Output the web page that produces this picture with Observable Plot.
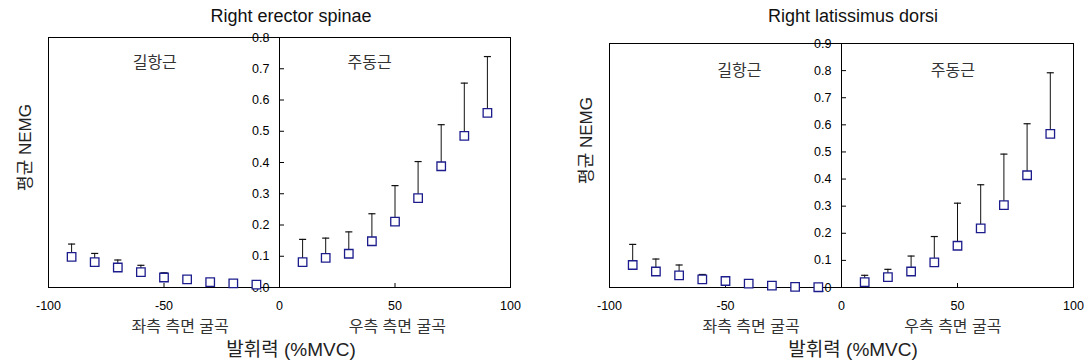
<!DOCTYPE html>
<html>
<head>
<meta charset="utf-8">
<script src="https://cdn.jsdelivr.net/npm/d3@7"></script>
<script src="https://cdn.jsdelivr.net/npm/@observablehq/plot@0.6"></script>
<style>
  html, body { margin: 0; padding: 0; background: #fff; }
  #wrap { display: flex; flex-direction: row; width: 1091px; height: 364px; overflow: hidden; }
</style>
</head>
<body>
<div id="wrap"></div>
<script>
// ---- data ----
const force = [-90, -80, -70, -60, -50, -40, -30, -20, -10, 10, 20, 30, 40, 50, 60, 70, 80, 90];

const erectorMean  = [0.098, 0.081, 0.064, 0.049, 0.032, 0.026, 0.017, 0.013, 0.009,
                      0.081, 0.095, 0.108, 0.148, 0.211, 0.286, 0.388, 0.485, 0.559];
const erectorUpper = [0.139, 0.109, 0.088, 0.071, 0.047, 0.032, 0.021, 0.016, 0.011,
                      0.154, 0.158, 0.178, 0.236, 0.326, 0.403, 0.521, 0.654, 0.739];

const latMean  = [0.083, 0.059, 0.045, 0.030, 0.024, 0.014, 0.007, 0.002, 0.001,
                  0.020, 0.038, 0.059, 0.093, 0.154, 0.218, 0.304, 0.414, 0.567];
const latUpper = [0.159, 0.105, 0.083, 0.048, 0.038, 0.019, 0.009, 0.004, 0.002,
                  0.045, 0.067, 0.116, 0.188, 0.311, 0.379, 0.492, 0.604, 0.792];

const panelTitles = ["Right erector spinae", "Right latissimus dorsi"];
const yMax = [0.8, 0.9];
const yTicksErector = [0, 0.1, 0.2, 0.3, 0.4, 0.5, 0.6, 0.7, 0.8];
const yTicksLat = [0, 0.1, 0.2, 0.3, 0.4, 0.5, 0.6, 0.7, 0.8, 0.9];
const xTicks = [-100, -50, 0, 50, 100];

const roleLabels = ["길항근", "주동근"];
const roleLabelX = [[-54, 39], [-44, 48]];
const roleLabelY = [0.72, 0.80];

const sideLabels = ["좌측 측면 굴곡", "우측 측면 굴곡"];
const sideLabelX = [[-43, 51], [-39, 48]];

const xAxisLabel = "발휘력 (%MVC)";
const xAxisLabelX = 5;
const yAxisLabel = "평균 NEMG";

// ---- drawing ----
const FONT = "'Liberation Sans', Arial, 'Noto Sans CJK KR', sans-serif";

const capSymbol = {
  draw(context, size) {
    const w = Math.sqrt(size) / 2;
    context.moveTo(-w, 0);
    context.lineTo(w, 0);
  }
};

function panel(idx, mean, upper, yTicks, layout) {
  const rows = force.map((x, i) => ({x, mean: mean[i], upper: upper[i]}));
  const roles = roleLabels.map((t, i) => ({t, x: roleLabelX[idx][i], y: roleLabelY[idx]}));
  const sides = sideLabels.map((t, i) => ({t, x: sideLabelX[idx][i]}));
  return Plot.plot({
    width: layout.width,
    height: 364,
    marginLeft: layout.ml,
    marginRight: layout.mr,
    marginTop: layout.mt,
    marginBottom: 77,
    style: {fontFamily: FONT, fontSize: "12px", color: "#000", background: "#fff", overflow: "visible"},
    x: {domain: [-100, 100], label: null},
    y: {domain: [0, yMax[idx]], label: null},
    marks: [
      Plot.frame({stroke: "#000", strokeWidth: 1}),
      Plot.ruleX([0], {stroke: "#000", strokeWidth: 1}),
      // x ticks pointing inward (up) from the baseline
      Plot.axisX(xTicks, {anchor: "top", y: 0, tickSize: 5, tickFormat: () => "", stroke: "#000"}),
      Plot.axisX(xTicks, {anchor: "bottom", tickSize: 0, tickPadding: 14, tickFormat: d => String(d), fontSize: 12.5}),
      // y axis at x = 0
      Plot.axisY(yTicks, {anchor: "right", x: 0, tickSize: 4, tickFormat: () => "", stroke: "#000"}),
      Plot.axisY(yTicks, {anchor: "left", x: 0, tickSize: 0, tickPadding: 10, tickFormat: d3.format(".1f"), fontSize: 12.5}),
      // error bars
      Plot.ruleX(rows, {x: "x", y1: "mean", y2: "upper", stroke: "#111", strokeWidth: 1}),
      Plot.dot(rows, {x: "x", y: "upper", symbol: capSymbol, r: 4, stroke: "#111", strokeWidth: 1.2}),
      // means
      Plot.dot(rows, {x: "x", y: "mean", symbol: "square", r: 4.8, stroke: "#1c1c8c", fill: "#fff", strokeWidth: 1.3}),
      // annotations
      Plot.text(roles, {x: "x", y: "y", text: "t", fontSize: 16, fill: "#333"}),
      Plot.text(sides, {x: "x", text: "t", frameAnchor: "bottom", dy: 44, fontSize: 16, fill: "#333", letterSpacing: "1px"}),
      Plot.text([xAxisLabel], {x: () => xAxisLabelX, text: d => d, frameAnchor: "bottom", dy: 68, fontSize: 19, fill: "#222"}),
      Plot.text([panelTitles[idx]], {x: () => xAxisLabelX, text: d => d, frameAnchor: "top", dy: layout.titleDy, fontSize: 18, fill: "#111"}),
      Plot.text([yAxisLabel], {text: d => d, frameAnchor: "top-left", dx: -30, dy: layout.yLabelDy, rotate: -90, textAnchor: "middle", fontSize: 17, fill: "#222"})
    ]
  });
}

const wrap = document.getElementById("wrap");
wrap.append(panel(0, erectorMean, erectorUpper, yTicksErector, {width: 545, ml: 48, mr: 35, mt: 37, titleDy: -28, yLabelDy: 110}));
wrap.append(panel(1, latMean, latUpper, yTicksLat, {width: 546, ml: 64, mr: 18, mt: 43, titleDy: -34, yLabelDy: 97}));
</script>
</body>
</html>
